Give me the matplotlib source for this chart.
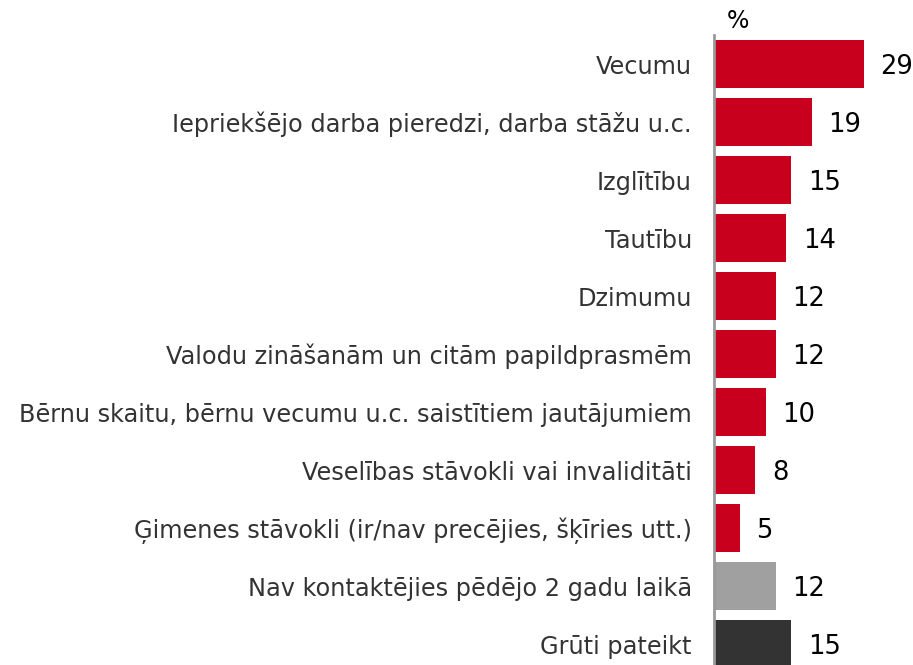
import matplotlib
matplotlib.use("Agg")
import matplotlib.pyplot as plt

categories = [
    "Vecumu",
    "Iepriekšējo darba pieredzi, darba stāžu u.c.",
    "Izglītību",
    "Tautību",
    "Dzimumu",
    "Valodu zināšanām un citām papildprasmēm",
    "Bērnu skaitu, bērnu vecumu u.c. saistītiem jautājumiem",
    "Veselības stāvokli vai invaliditāti",
    "Ģimenes stāvokli (ir/nav precējies, šķīries utt.)",
    "Nav kontaktējies pēdējo 2 gadu laikā",
    "Grūti pateikt",
]
values = [29, 19, 15, 14, 12, 12, 10, 8, 5, 12, 15]
colors = ["#c8001e"] * 9 + ["#a0a0a0", "#333333"]

fig = plt.figure(figsize=(9.13, 6.65), dpi=100)
ax = fig.add_axes([714 / 913, 0, 199 / 913, 630 / 665])

pos = list(range(len(values)))
ax.barh(pos, values, height=0.83, color=colors)
ax.set_xlim(0, 38.6)
ax.set_ylim(10.36, -0.5)

for y, v in zip(pos, values):
    ax.annotate(str(v), (v, y), xytext=(12, -2), textcoords="offset points",
                ha="left", va="center", fontsize=18.5, color="black")

ax.set_yticks(pos)
ax.set_yticklabels(categories, fontsize=17.3, color="#333333")
ax.tick_params(axis="y", length=0, pad=16)
ax.set_xticks([])
for s in ["top", "right", "bottom"]:
    ax.spines[s].set_visible(False)
ax.spines["left"].set_color("#999999")
ax.spines["left"].set_linewidth(2)

fig.text(738 / 913, 1 - 21 / 665, "%", ha="center", va="center", fontsize=17)

fig.savefig("out.png", dpi=100)
